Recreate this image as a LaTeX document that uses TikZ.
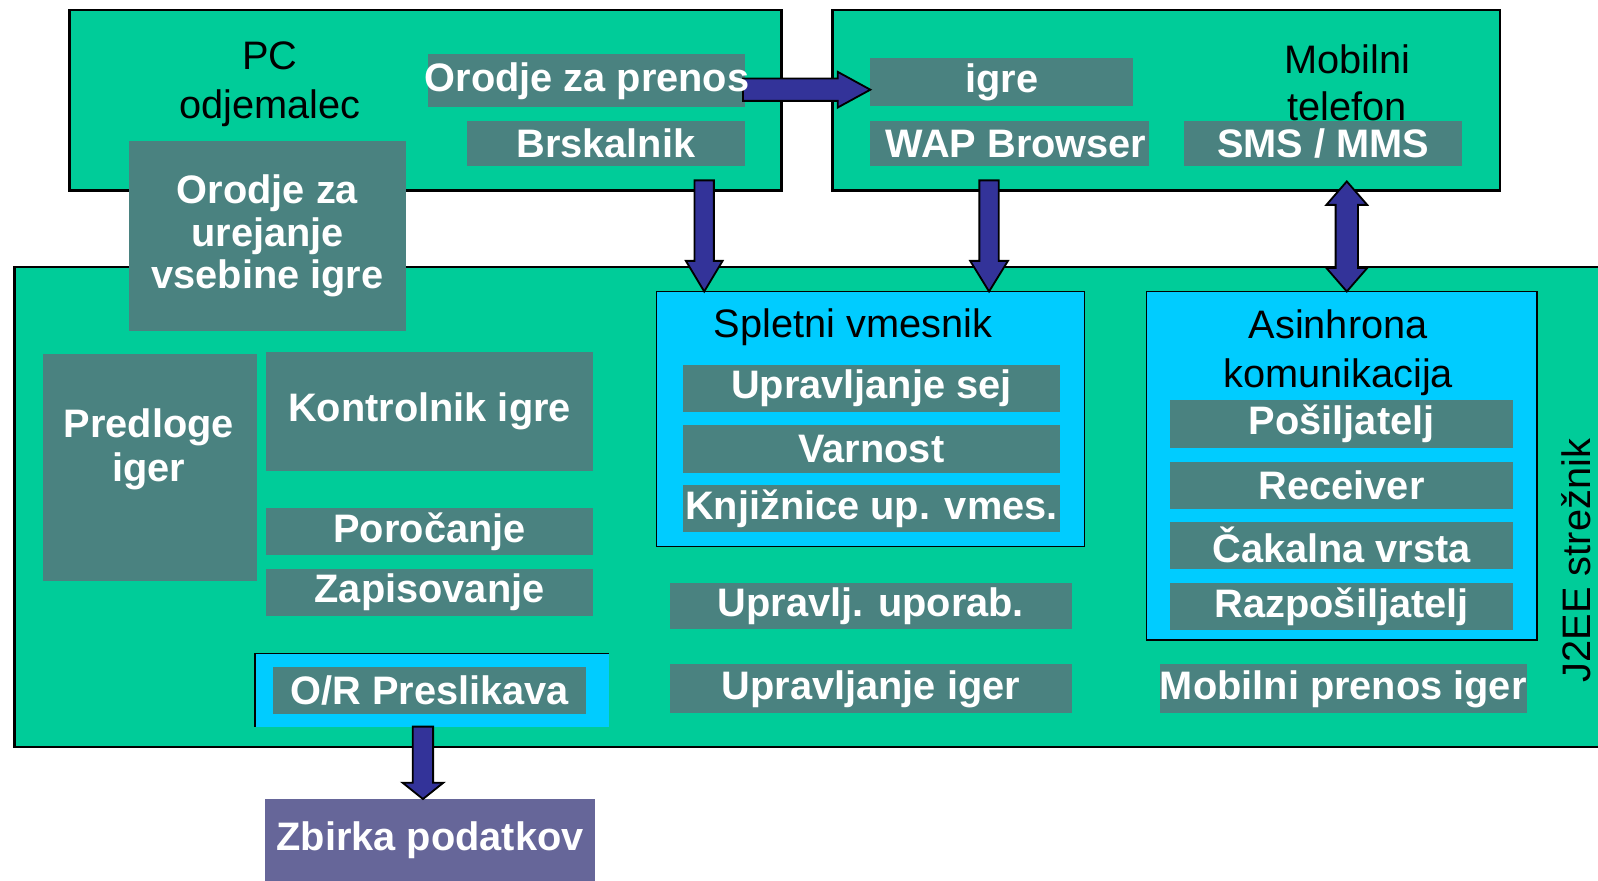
\documentclass[tikz,border=0pt]{standalone}
\usepackage{fontspec}
\setmainfont{Liberation Sans}
\usetikzlibrary{calc}
\pgfdeclarelayer{front}
\pgfsetlayers{main,front}
\definecolor{srvgreen}{HTML}{00CC99}
\definecolor{tealgray}{HTML}{4A8280}
\definecolor{cyanbox}{HTML}{00CCFF}
\definecolor{arrowblue}{HTML}{333399}
\definecolor{dbbox}{HTML}{666699}
\tikzset{
  every node/.style={inner sep=0pt, outer sep=0pt},
  container/.style={fill=srvgreen, draw=black, line width=1.25pt},
  subcont/.style={fill=cyanbox, draw=black, line width=0.75pt},
  cyanfill/.style={fill=cyanbox},
  label/.style={fill=tealgray, text=white, align=center,
    font=\fontsize{19.5}{21}\selectfont\bfseries},
  dblabel/.style={fill=dbbox, text=white,
    font=\fontsize{19.5}{21}\selectfont\bfseries},
  boldtext/.style={text=white, font=\fontsize{19.5}{21}\selectfont\bfseries},
  plain/.style={text=black, align=center, font=\fontsize{19.5}{24}\selectfont},
  blockarrow/.style={fill=arrowblue, draw=black, line width=0.9pt, line join=miter},
}
% style, name, x1, y1, x2, y2, text
\newcommand\mybox[7]{%
  \pgfmathsetmacro\mybw{(#5-#3)*0.5}%
  \pgfmathsetmacro\mybh{(#6-#4)*0.5}%
  \node[#1, minimum width=\mybw pt, minimum height=\mybh pt] (#2) at ({(#3+#5)/2},{(#4+#6)/2}) {#7};}
% down arrow: start, tip, shaft half width, head half width, head length
\newcommand\downblock[5]{%
  \draw[blockarrow] ($(#1)+(-#3,0)$) -- ($(#2)+(-#3,-#5)$) -- ($(#2)+(-#4,-#5)$) -- (#2)
    -- ($(#2)+(#4,-#5)$) -- ($(#2)+(#3,-#5)$) -- ($(#1)+(#3,0)$) -- cycle;}
% right arrow
\newcommand\rightblock[5]{%
  \draw[blockarrow] ($(#1)+(0,-#3)$) -- ($(#2)+(-#5,-#3)$) -- ($(#2)+(-#5,-#4)$) -- (#2)
    -- ($(#2)+(-#5,#4)$) -- ($(#2)+(-#5,#3)$) -- ($(#1)+(0,#3)$) -- cycle;}
% vertical double arrow: top tip, bottom tip, shaft hw, head hw, head length
\newcommand\twoblock[5]{%
  \draw[blockarrow] (#1) -- ($(#1)+(#4,#5)$) -- ($(#1)+(#3,#5)$) -- ($(#2)+(#3,-#5)$)
    -- ($(#2)+(#4,-#5)$) -- (#2) -- ($(#2)+(-#4,-#5)$) -- ($(#2)+(-#3,-#5)$)
    -- ($(#1)+(-#3,#5)$) -- ($(#1)+(-#4,#5)$) -- cycle;}
\begin{document}
\begin{tikzpicture}[x=0.5pt,y=-0.5pt]
\useasboundingbox (0,0) rectangle (1568,864);
\fill[white] (0,0) rectangle (1568,864);
\clip (0,0) rectangle (1568,864);

% containers
\mybox{container}{pc}{68}{10}{767}{187}{}
\mybox{container}{mob}{817}{10}{1472}{187}{}
\mybox{container}{srv}{14}{262}{1590}{733}{}
\mybox{label}{urej}{127}{138}{398}{325}{Orodje za\\urejanje\\vsebine igre}

% PC client
\mybox{label}{prenos}{420}{53}{731}{105}{}
\mybox{label}{brsk}{458}{119}{731}{163}{Brskalnik}
\node[plain] (pctext) at (265,83) {PC\\odjemalec};

% mobile
\mybox{label}{igre}{854}{57}{1112}{104}{igre}
\mybox{label}{wap}{854}{119}{1127}{163}{}
\node[boldtext] (waptext) at (997,141) {WAP Browser};
\mybox{label}{sms}{1162}{119}{1435}{163}{SMS / MMS}
\node[plain, font=\fontsize{19.5}{23}\selectfont] (mobtext) at (1322,81) {Mobilni\\telefon};

% web middleware
\mybox{subcont}{splet}{644}{286}{1064}{536}{}
\node[plain] (spltext) at (837,321) {Spletni vmesnik};
\mybox{label}{sej}{670}{358}{1040}{404}{Upravljanje sej}
\mybox{label}{varn}{670}{417}{1040}{464}{Varnost}
\mybox{label}{knj}{670}{476}{1040}{522}{Knjižnice up. vmes.}

% async
\mybox{subcont}{asyn}{1125}{286}{1508}{628}{}
\node[plain] (asytext) at (1313,346) {Asinhrona\\komunikacija};
\mybox{label}{posi}{1148}{392}{1485}{440}{Pošiljatelj}
\mybox{label}{recv}{1148}{453}{1485}{499}{Receiver}
\mybox{label}{cak}{1148}{512}{1485}{558}{Čakalna vrsta}
\mybox{label}{razp}{1148}{572}{1485}{618}{Razpošiljatelj}

% left server part
\mybox{label}{pred}{42}{347}{252}{570}{}
\node[boldtext, align=center, font=\fontsize{19.5}{21.5}\selectfont\bfseries] (predtext) at (146,441) {Predloge\\iger};
\mybox{label}{kontr}{261}{345}{582}{462}{Kontrolnik igre}
\mybox{label}{poroc}{261}{498}{582}{545}{Poročanje}
\mybox{label}{zapis}{261}{558}{582}{604}{Zapisovanje}
\mybox{cyanfill}{orout}{250}{641}{598}{713}{}
\draw[black, line width=0.75pt] (orout.south west) -- (orout.north west) -- (orout.north east);
\mybox{label}{orin}{268}{654}{575}{701}{O/R Preslikava}

% middle/right server part
\mybox{label}{uup}{657}{572}{1052}{617}{Upravlj. uporab.}
\mybox{label}{upig}{657}{652}{1052}{700}{Upravljanje iger}
\mybox{label}{mpi}{1139}{652}{1497}{700}{Mobilni prenos iger}
\node[plain, rotate=90, anchor=base] (j2ee) at (1561,550) {J2EE strežnik};

% database
\mybox{dblabel}{zb}{260}{784}{584}{864}{Zbirka podatkov}

% connectors
\coordinate (h1s) at ($(prenos.east)+(-2,9)$);
\coordinate (h1t) at (h1s -| igre.west);
\rightblock{h1s}{h1t}{11}{17.5}{32}

\coordinate (d1s) at ($(brsk.south east)+(-40,14)$);
\coordinate (d1t) at (d1s |- splet.north);
\downblock{d1s}{d1t}{9.5}{18}{30}

\coordinate (d2s) at ($(wap.south)+(-20,14)$);
\coordinate (d2t) at (d2s |- splet.north);
\downblock{d2s}{d2t}{9.5}{18.5}{30}

\coordinate (b1t) at ($(sms.south)+(23,15)$);
\coordinate (b1b) at (b1t |- asyn.north);
\twoblock{b1t}{b1b}{11}{20}{23}

\coordinate (d3s) at ($(orout.south)+(-9,0)$);
\coordinate (d3t) at (d3s |- zb.north);
\downblock{d3s}{d3t}{10}{20}{16}

\begin{pgfonlayer}{front}
\node[boldtext] (prenostext) at (576,80) {Orodje za prenos};
\end{pgfonlayer}
\end{tikzpicture}
\end{document}
